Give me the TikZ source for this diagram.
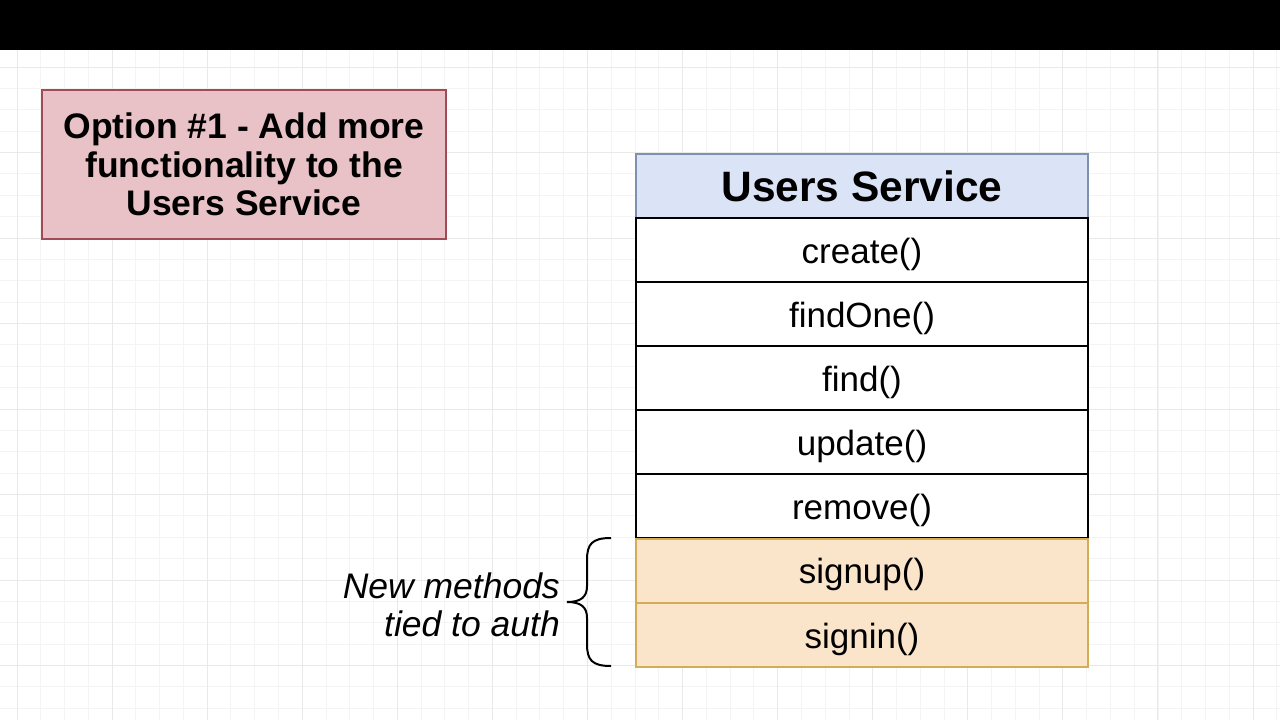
\documentclass[tikz,border=0pt]{standalone}
\usepackage{fontspec}
\setmainfont{Liberation Sans}
\definecolor{gridminor}{HTML}{F4F4F4}
\definecolor{gridmajor}{HTML}{E9E9E9}
\definecolor{optfill}{HTML}{E9C2C7}
\definecolor{optdraw}{HTML}{A14B57}
\definecolor{hdrfill}{HTML}{DAE4F6}
\definecolor{hdrdraw}{HTML}{8090B0}
\definecolor{authfill}{HTML}{FAE4CA}
\definecolor{authdraw}{HTML}{D4AC55}
\tikzset{
  minorline/.style={gridminor, line width=0.9pt},
  majorline/.style={gridmajor, line width=1pt},
  rowbox/.style={draw=black, fill=white, line width=2pt, minimum width=452pt, minimum height=64pt, inner sep=0pt, text height=30pt, text depth=4pt, anchor=north west, font=\fontsize{35}{38}\selectfont},
  hdrbox/.style={rowbox, draw=hdrdraw, fill=hdrfill, text height=31pt, text depth=1pt, font=\bfseries\fontsize{42.5}{46}\selectfont},
  authbox/.style={rowbox, draw=authdraw, fill=authfill},
  optbox/.style={draw=optdraw, fill=optfill, line width=2pt, minimum width=404pt, minimum height=149pt, inner sep=0pt, anchor=north west, align=center, font=\bfseries\fontsize{35.5}{38.5}\selectfont},
  notetext/.style={anchor=east, align=right, inner sep=0pt, font=\itshape\fontsize{35.5}{38}\selectfont},
  bracestyle/.style={draw=black, line width=2pt}
}
\begin{document}
\begin{tikzpicture}[x=1pt,y=-1pt]
\useasboundingbox (0,0) rectangle (1280,720);
\fill[white] (0,0) rectangle (1280,720);
% grid
\begin{scope}
\clip (0,50) rectangle (1280,720);
\foreach \i in {-1,...,53} \draw[minorline] ({17+\i*23.77},50) -- ({17+\i*23.77},720);
\foreach \j in {-1,...,31} \draw[minorline] (0,{67+\j*21.375}) -- (1280,{67+\j*21.375});
\foreach \i in {0,...,13} \draw[majorline] ({17+\i*95.08},50) -- ({17+\i*95.08},720);
\foreach \j in {0,...,7} \draw[majorline] (0,{67+\j*85.5}) -- (1280,{67+\j*85.5});
\end{scope}
% top black bar
\fill[black] (0,0) rectangle (1280,50);
% option box
\node[optbox] (opt) at (41,89) {Option \#1 - Add more\\functionality to the\\Users Service};
% table
\node[hdrbox] (hdr) at (635,153) {Users Service};
\node[rowbox] (create) at (635,217) {create()};
\node[rowbox] (findone) at (635,281) {findOne()};
\node[rowbox] (find) at (635,345) {find()};
\node[rowbox] (update) at (635,409) {update()};
\node[rowbox] (remove) at (635,473) {remove()};
\node[authbox] (signup) at (635,537.5) {signup()};
\node[authbox] (signin) at (635,602) {signin()};
% brace
\coordinate (btop) at (611,538);
\coordinate (bbot) at (611,666);
\coordinate (btip) at (567,602);
\draw[bracestyle] (btop) .. controls (592,538) and (587,544) .. (587,560) -- (587,586)
  .. controls (587,597) and (581,602) .. (btip)
  .. controls (581,602) and (587,607) .. (587,618) -- (587,644)
  .. controls (587,660) and (592,666) .. (bbot);
% note
\node[notetext] (note) at (560,605) {New methods\\tied to auth};
\end{tikzpicture}
\end{document}
